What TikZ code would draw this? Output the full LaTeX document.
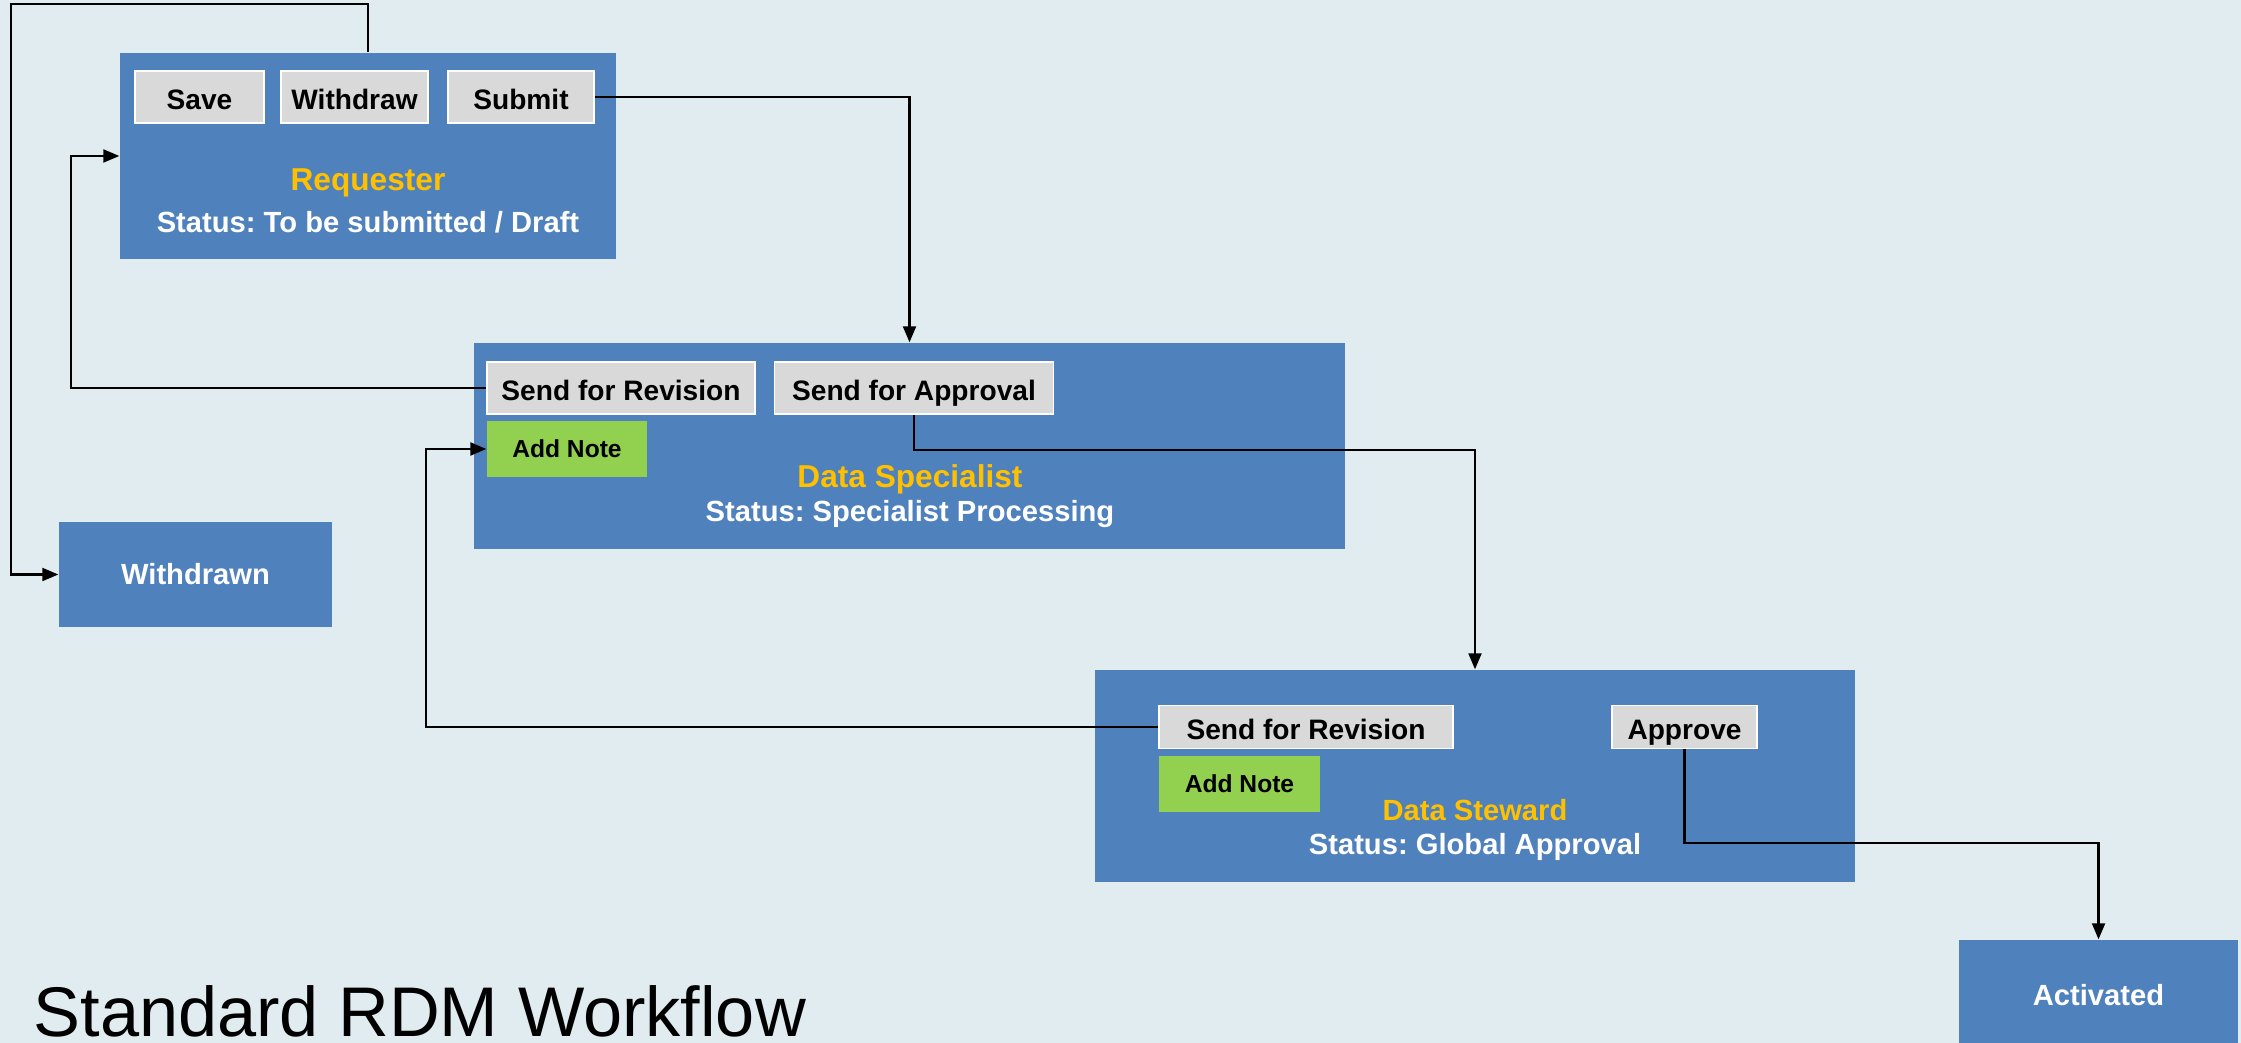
\documentclass[tikz,border=0pt]{standalone}
\usepackage{fontspec}
\setmainfont{Liberation Sans}
\usepackage{tikz}
\usetikzlibrary{arrows.meta,positioning,calc}
\definecolor{bgpanel}{RGB}{224,236,240}
\definecolor{stageblue}{RGB}{79,129,189}
\definecolor{btngray}{RGB}{217,217,217}
\definecolor{notegreen}{RGB}{146,208,80}
\definecolor{rolegold}{RGB}{255,192,0}
\frenchspacing

\begin{document}
\begin{tikzpicture}[
        stage/.style={
            rectangle,
            fill=stageblue,
            inner sep=0pt,
            text=white,
            font=\fontsize{8.3}{9.5}\selectfont\bfseries
        },
        btn/.style={
            rectangle,
            draw=white,
            line width=0.5pt,
            fill=btngray,
            inner sep=0pt,
            text height=0.72em,
            text depth=0pt,
            minimum height=0.52cm,
            font=\fontsize{8}{9.5}\selectfont\bfseries
        },
        notebtn/.style={
            rectangle,
            fill=notegreen,
            inner sep=0pt,
            minimum width=1.6cm,
            minimum height=0.56cm,
            font=\fontsize{7}{8.5}\selectfont\bfseries
        },
        role/.style={text=rolegold, inner sep=0pt, font=\fontsize{9}{10.5}\selectfont\bfseries},
        status/.style={text=white, inner sep=0pt, font=\fontsize{8.3}{9.5}\selectfont\bfseries},
        flow/.style={draw=black, line width=0.6pt, -{Triangle[length=1.6mm, width=1.3mm]}}
    ]
        \clip (0,0) rectangle (22.41,-10.43);
        \fill[bgpanel] (0,0) rectangle (22.41,-10.43);

        \node[stage, minimum width=4.96cm, minimum height=2.06cm] (req)  at (3.68,-1.56) {};
        \node[stage, minimum width=8.71cm, minimum height=2.06cm] (spec) at (9.095,-4.46) {};
        \node[stage, minimum width=7.60cm, minimum height=2.12cm] (stew) at (14.75,-7.76) {};
        \node[stage, minimum width=2.73cm, minimum height=1.05cm] (withdrawn) at (1.955,-5.745) {Withdrawn};
        \node[stage, minimum width=2.79cm, minimum height=1.10cm] (activated) at (20.985,-9.95) {Activated};

        \node[btn, minimum width=1.29cm] (save)     at (1.995,-0.97) {Save};
        \node[btn, minimum width=1.47cm] (withdraw) at (3.545,-0.97) {Withdraw};
        \node[btn, minimum width=1.46cm] (submit)   at (5.21,-0.97) {Submit};
        \node[role]   (reqrole) at (3.68,-1.83) {Requester};
        \node[status] (reqstat) at (3.68,-2.225) {Status: To be submitted / Draft};

        \node[btn, minimum width=2.68cm] (specrev)  at (6.21,-3.88) {Send for Revision};
        \node[btn, minimum width=2.79cm] (specappr) at (9.14,-3.88) {Send for Approval};
        \node[notebtn] (specnote) at (5.67,-4.49) {Add Note};
        \node[role]   (specrole) at (9.10,-4.79) {Data Specialist};
        \node[status] (specstat) at (9.10,-5.14) {Status: Specialist Processing};

        \node[btn, minimum width=2.94cm, minimum height=0.43cm] (stewrev)  at (13.06,-7.27) {Send for Revision};
        \node[btn, minimum width=1.45cm, minimum height=0.43cm] (stewappr) at (16.845,-7.27) {Approve};
        \node[notebtn, minimum width=1.61cm] (stewnote) at (12.395,-7.84) {Add Note};
        \node[role, font=\fontsize{8.3}{9.5}\selectfont\bfseries] (stewrole) at (14.75,-8.10) {Data Steward};
        \node[status] (stewstat) at (14.75,-8.465) {Status: Global Approval};

        \node[anchor=base west, inner sep=0pt, text depth=0pt, font=\fontsize{20}{24}\selectfont] (title) at (0.33,-10.36) {Standard RDM Workflow};

        \draw[flow] (req.north) -- ++(0,0.48) -| ([xshift=-4.76mm]withdrawn.west) -- (withdrawn.west);
        \draw[flow] (submit.east) -| (spec.north);
        \draw[flow] (specrev.west) -| ([xshift=-4.85mm]req.west) -- (req.west);
        \draw[flow] (specappr.south) -- ++(0,-0.35) -| (stew.north);
        \draw[flow] (stewrev.west) -| ([xshift=-6mm]specnote.west) -- (specnote.west);
        \draw[flow] (stewappr.south) -- ++(0,-0.94) -| (activated.north);
    \end{tikzpicture}
\end{document}
